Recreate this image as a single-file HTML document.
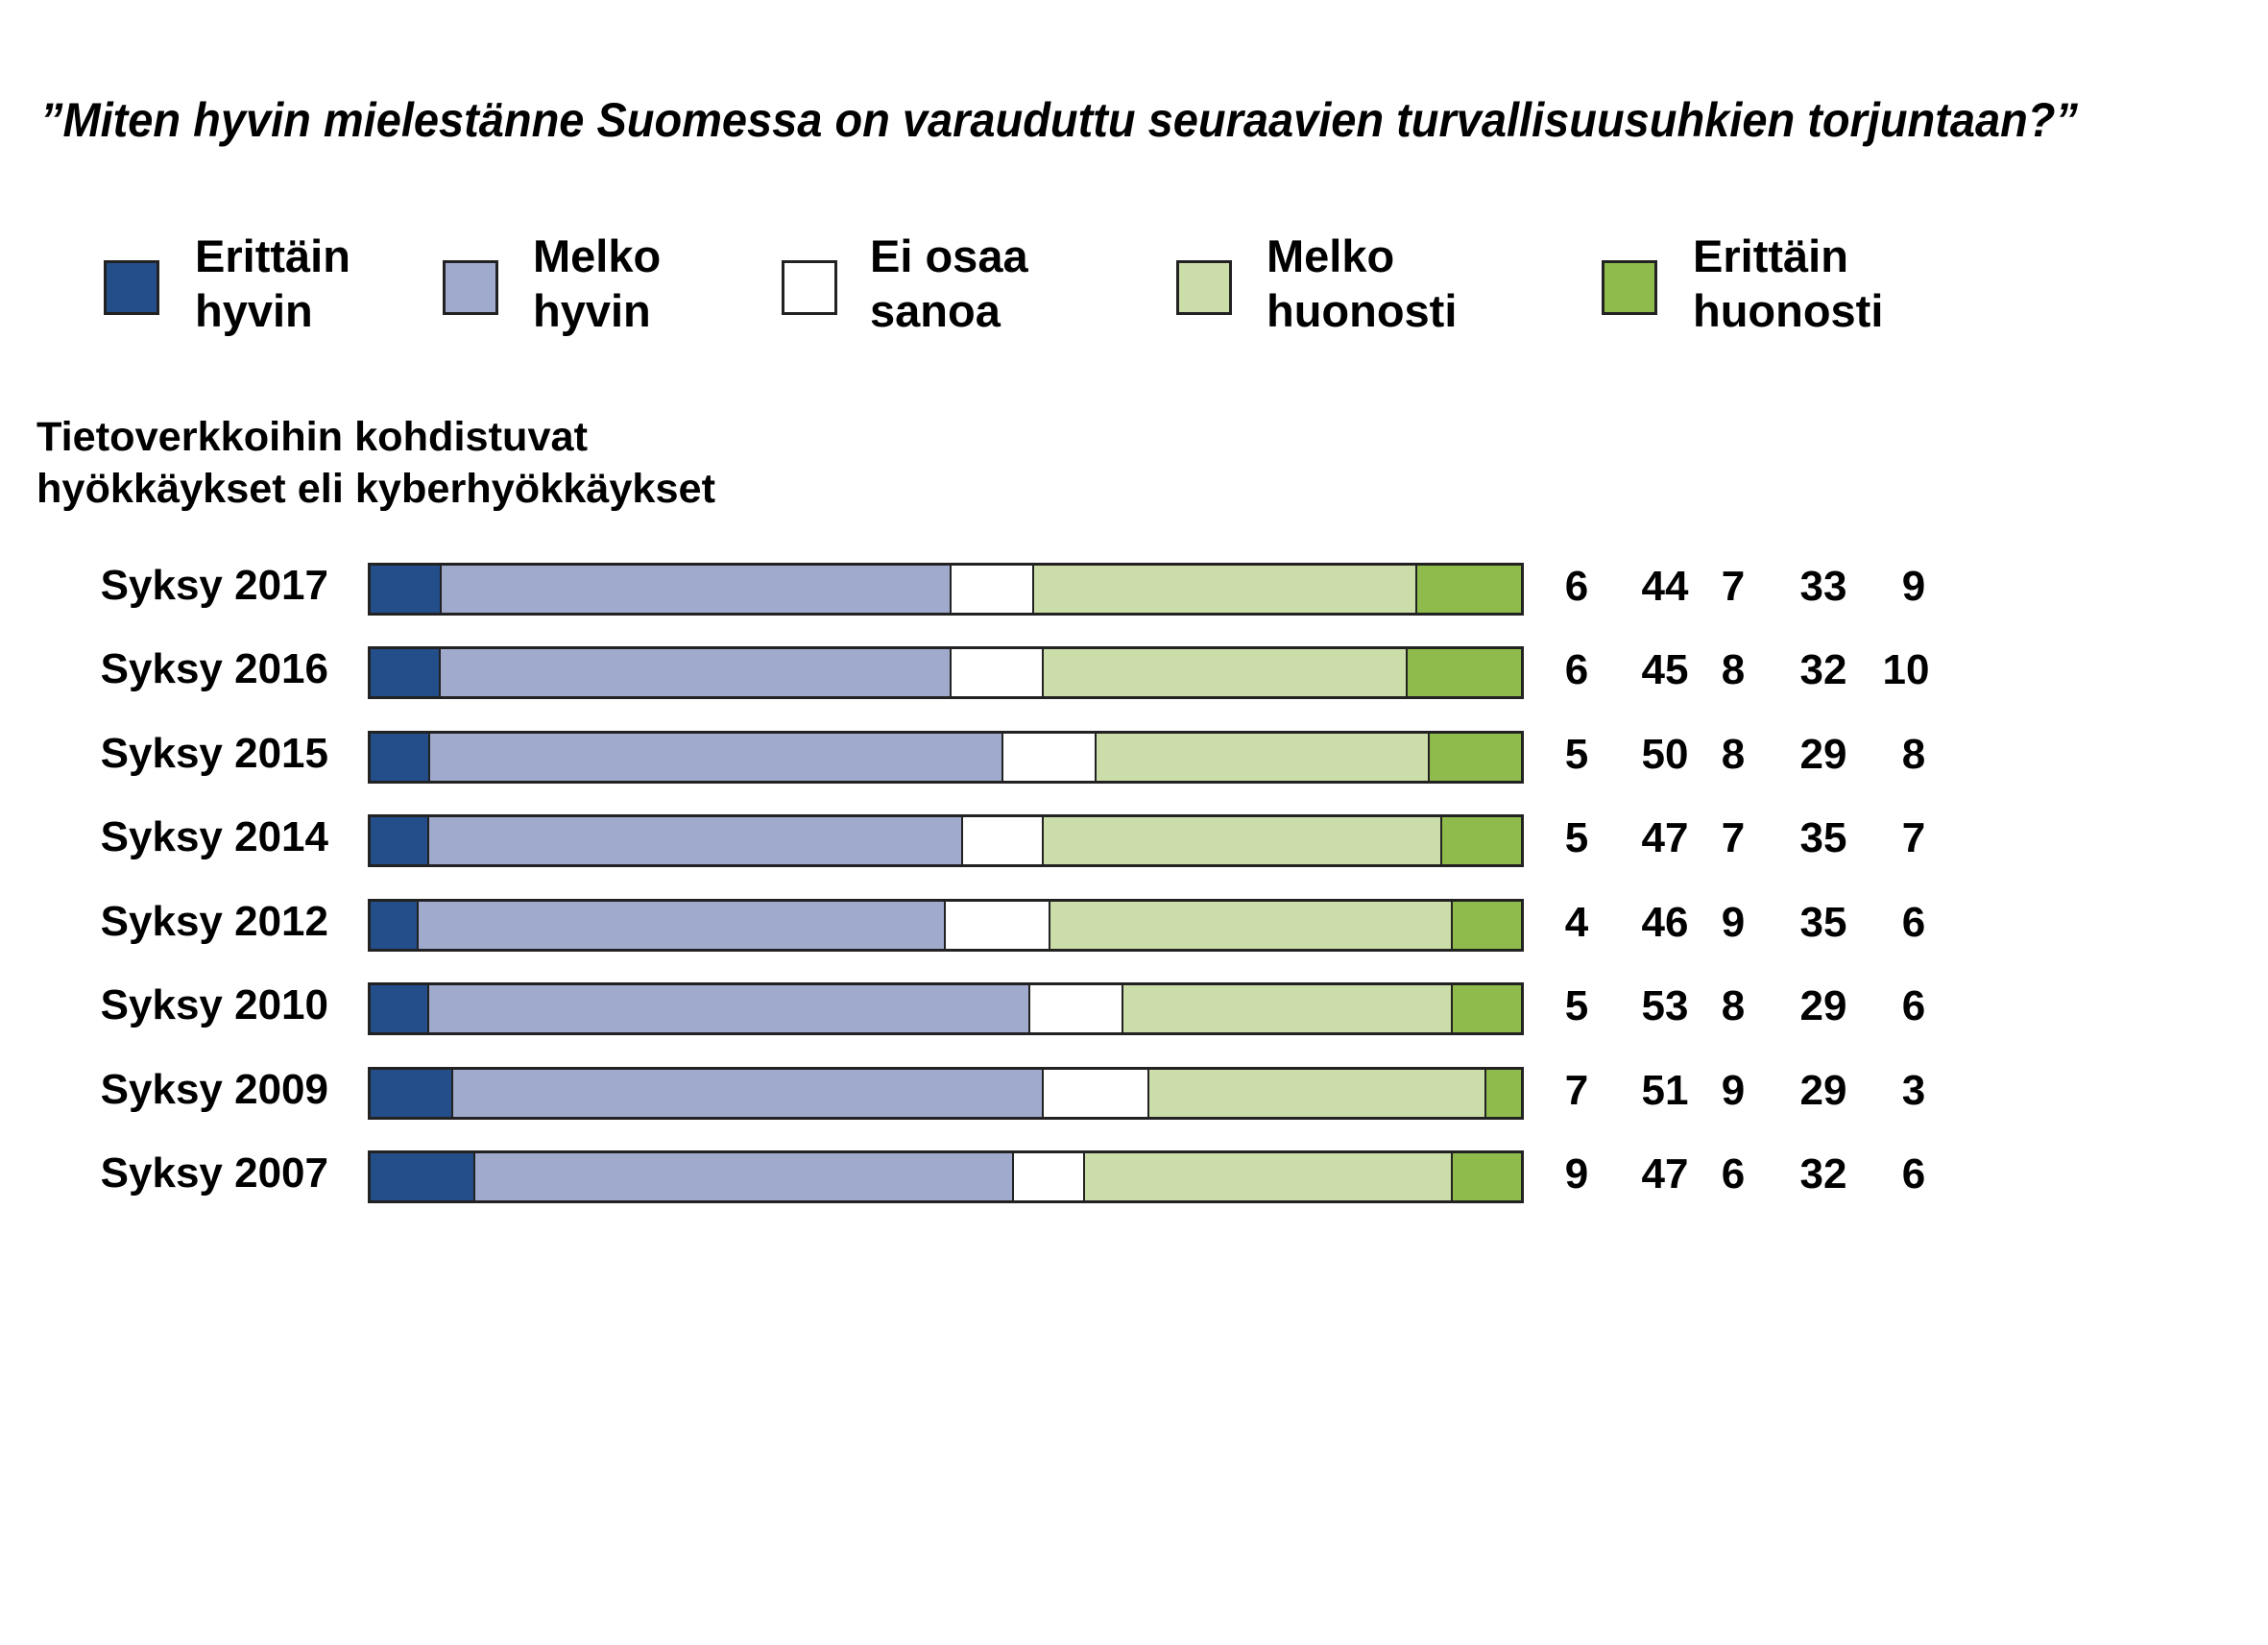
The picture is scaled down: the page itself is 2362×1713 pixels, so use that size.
<!DOCTYPE html>
<html><head><meta charset="utf-8"><style>
html,body{margin:0;padding:0;background:#fff;}
body{width:2362px;height:1713px;position:relative;overflow:hidden;font-family:"Liberation Sans",sans-serif;}
svg{position:absolute;left:0;top:0;}
.bar{position:absolute;left:383px;width:1204px;height:55px;display:flex;box-sizing:border-box;border:3px solid #222;}
.bar div{height:100%;box-sizing:border-box;border-right:2px solid #222;}
.bar div:last-child{border-right:none;}
.a{background:#234e8a}.b{background:#a0aacd}.c{background:#fff}.d{background:#cbdda8}.e{background:#8fbb4c}
.lg{position:absolute;top:271px;width:58px;height:57px;box-sizing:border-box;border:3px solid #222;}
</style></head><body>
<div class="lg a" style="left:108px"></div>
<div class="lg b" style="left:461px"></div>
<div class="lg c" style="left:814px"></div>
<div class="lg d" style="left:1225px"></div>
<div class="lg e" style="left:1668px"></div>

<div class="bar" style="top:586px"><div class="a" style="flex:6"></div><div class="b" style="flex:44"></div><div class="c" style="flex:7"></div><div class="d" style="flex:33"></div><div class="e" style="flex:9"></div></div>
<div class="bar" style="top:673px"><div class="a" style="flex:6"></div><div class="b" style="flex:45"></div><div class="c" style="flex:8"></div><div class="d" style="flex:32"></div><div class="e" style="flex:10"></div></div>
<div class="bar" style="top:761px"><div class="a" style="flex:5"></div><div class="b" style="flex:50"></div><div class="c" style="flex:8"></div><div class="d" style="flex:29"></div><div class="e" style="flex:8"></div></div>
<div class="bar" style="top:848px"><div class="a" style="flex:5"></div><div class="b" style="flex:47"></div><div class="c" style="flex:7"></div><div class="d" style="flex:35"></div><div class="e" style="flex:7"></div></div>
<div class="bar" style="top:936px"><div class="a" style="flex:4"></div><div class="b" style="flex:46"></div><div class="c" style="flex:9"></div><div class="d" style="flex:35"></div><div class="e" style="flex:6"></div></div>
<div class="bar" style="top:1023px"><div class="a" style="flex:5"></div><div class="b" style="flex:53"></div><div class="c" style="flex:8"></div><div class="d" style="flex:29"></div><div class="e" style="flex:6"></div></div>
<div class="bar" style="top:1111px"><div class="a" style="flex:7"></div><div class="b" style="flex:51"></div><div class="c" style="flex:9"></div><div class="d" style="flex:29"></div><div class="e" style="flex:3"></div></div>
<div class="bar" style="top:1198px"><div class="a" style="flex:9"></div><div class="b" style="flex:47"></div><div class="c" style="flex:6"></div><div class="d" style="flex:32"></div><div class="e" style="flex:6"></div></div>

<svg width="2362" height="1713" font-family="Liberation Sans, sans-serif" font-weight="bold" fill="#000">
<text x="42" y="142" font-size="50" font-style="italic" textLength="2122" lengthAdjust="spacingAndGlyphs">”Miten hyvin mielestänne Suomessa on varauduttu seuraavien turvallisuusuhkien torjuntaan?”</text>
<g font-size="47">
<text x="203" y="283">Erittäin</text><text x="203" y="340">hyvin</text>
<text x="555" y="283">Melko</text><text x="555" y="340">hyvin</text>
<text x="906" y="283">Ei osaa</text><text x="906" y="340">sanoa</text>
<text x="1319" y="283">Melko</text><text x="1319" y="340">huonosti</text>
<text x="1763" y="283">Erittäin</text><text x="1763" y="340">huonosti</text>
</g>
<g font-size="43">
<text x="38" y="469" textLength="574" lengthAdjust="spacingAndGlyphs">Tietoverkkoihin kohdistuvat</text>
<text x="38" y="523" textLength="707" lengthAdjust="spacingAndGlyphs">hyökkäykset eli kyberhyökkäykset</text>
</g>
<g font-size="44" text-anchor="end">
<text x="342" y="624">Syksy 2017</text>
<text x="342" y="711">Syksy 2016</text>
<text x="342" y="799">Syksy 2015</text>
<text x="342" y="886">Syksy 2014</text>
<text x="342" y="974">Syksy 2012</text>
<text x="342" y="1061">Syksy 2010</text>
<text x="342" y="1149">Syksy 2009</text>
<text x="342" y="1236">Syksy 2007</text>
</g>
<g font-size="44" text-anchor="middle">
<g transform="translate(-7,625)"><text x="1649">6</text><text x="1741">44</text><text x="1812">7</text><text x="1906">33</text><text x="2000">9</text></g>
<g transform="translate(-7,712)"><text x="1649">6</text><text x="1741">45</text><text x="1812">8</text><text x="1906">32</text><text x="1992">10</text></g>
<g transform="translate(-7,800)"><text x="1649">5</text><text x="1741">50</text><text x="1812">8</text><text x="1906">29</text><text x="2000">8</text></g>
<g transform="translate(-7,887)"><text x="1649">5</text><text x="1741">47</text><text x="1812">7</text><text x="1906">35</text><text x="2000">7</text></g>
<g transform="translate(-7,975)"><text x="1649">4</text><text x="1741">46</text><text x="1812">9</text><text x="1906">35</text><text x="2000">6</text></g>
<g transform="translate(-7,1062)"><text x="1649">5</text><text x="1741">53</text><text x="1812">8</text><text x="1906">29</text><text x="2000">6</text></g>
<g transform="translate(-7,1150)"><text x="1649">7</text><text x="1741">51</text><text x="1812">9</text><text x="1906">29</text><text x="2000">3</text></g>
<g transform="translate(-7,1237)"><text x="1649">9</text><text x="1741">47</text><text x="1812">6</text><text x="1906">32</text><text x="2000">6</text></g>
</g>
</svg>
</body></html>
